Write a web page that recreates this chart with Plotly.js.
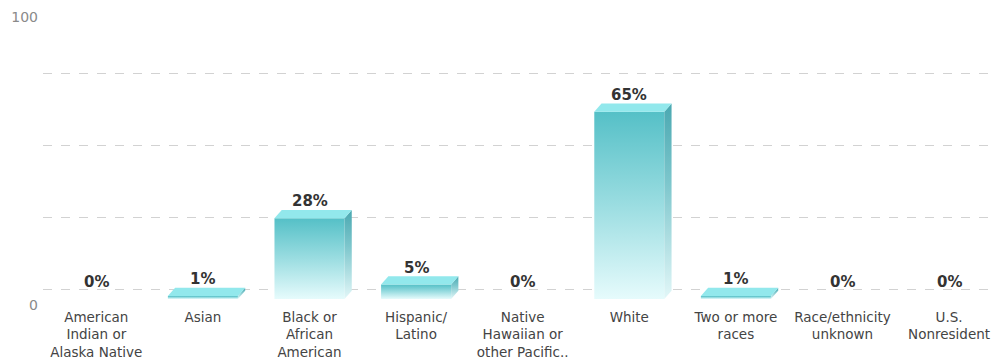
<!DOCTYPE html>
<html>
<head>
<meta charset="utf-8">
<script src="https://cdn.plot.ly/plotly-3.0.1.min.js"></script>
<style>
html,body{margin:0;padding:0;background:#fff;}
#chart{width:996px;height:360px;}
</style>
</head>
<body>
<div id="chart"></div>
<script>
// ---- data ----
var categories = [
  "American<br>Indian or<br>Alaska Native",
  "Asian",
  "Black or<br>African<br>American",
  "Hispanic/<br>Latino",
  "Native<br>Hawaiian or<br>other Pacific..",
  "White",
  "Two or more<br>races",
  "Race/ethnicity<br>unknown",
  "U.S.<br>Nonresident"
];
var percents = [0, 1, 28, 5, 0, 65, 1, 0, 0];
var yTickValues = [0, 100];
var yTickLabels = ["0", "100"];

// ---- styling constants (3D look) ----
var barWidth = 0.657;   // front face width in category units
var depthX = 0.068;     // 3D depth offset, category units
var depthY = 2.9;       // 3D depth offset, value units
var FONT = "DejaVu Sans, Liberation Sans, Arial, sans-serif";

var idx = categories.map(function(_, i){ return i; });

var traces = [];
// front faces
traces.push({
  type: "bar",
  x: idx,
  y: percents,
  width: barWidth,
  marker: {color: "#7fd3d8", line: {width: 0}},
  hoverinfo: "skip",
  showlegend: false
});

// side + top faces for each nonzero bar
var hw = barWidth / 2;
percents.forEach(function(v, i){
  if (v <= 0) return;
  traces.push({
    type: "scatter", mode: "none", fill: "toself",
    x: [i + hw, i + hw + depthX, i + hw + depthX, i + hw],
    y: [0, depthY, v + depthY, v],
    fillgradient: {type: "vertical",
      colorscale: [[0, "#e2f7f8"], [0.6, "#7cc6cc"], [1, "#4aa8b1"]]},
    hoverinfo: "skip", showlegend: false
  });
  traces.push({
    type: "scatter", mode: "none", fill: "toself",
    x: [i - hw, i + hw, i + hw + depthX, i - hw + depthX],
    y: [v, v, v + depthY, v + depthY],
    fillcolor: "#92e8ec",
    hoverinfo: "skip", showlegend: false
  });
});

// invisible trace to carry the grid axis
traces.push({type: "scatter", x: [], y: [], yaxis: "y2", hoverinfo: "skip", showlegend: false});

var annotations = percents.map(function(v, i){
  return {
    x: i, y: v, xref: "x", yref: "y",
    text: v + "%", showarrow: false,
    yanchor: "bottom", yshift: 6,
    font: {family: FONT, size: 15, color: "#333", weight: "bold"}
  };
});

var layout = {
  width: 996, height: 360,
  margin: {l: 43, r: 0, t: 11, b: 61},
  paper_bgcolor: "#ffffff",
  plot_bgcolor: "rgba(0,0,0,0)",
  font: {family: FONT, color: "#444"},
  xaxis: {
    type: "linear",
    range: [-0.5, 8.44],
    tickvals: idx, ticktext: categories,
    showgrid: false, zeroline: false, showline: false,
    ticks: "",
    ticklabelstandoff: 8,
    tickfont: {family: FONT, size: 13.5, color: "#444"},
    fixedrange: true
  },
  yaxis: {
    range: [0, 100],
    tickvals: yTickValues, ticktext: yTickLabels,
    showgrid: false, zeroline: false, showline: false,
    ticks: "",
    ticklabelshift: 6,
    ticklabelstandoff: 4,
    tickfont: {family: FONT, size: 14, color: "#8a8a8a"},
    fixedrange: true
  },
  yaxis2: {
    overlaying: "y",
    range: [-3.47, 96.53],
    tick0: 0, dtick: 25,
    showgrid: true, griddash: "dash", gridcolor: "#d2d2d2", gridwidth: 1,
    zeroline: false, showline: false, showticklabels: false, ticks: "",
    fixedrange: true
  },
  annotations: annotations,
  showlegend: false
};

Plotly.newPlot("chart", traces, layout, {displayModeBar: false, staticPlot: true}).then(function(gd){
  var svg = gd.querySelector("svg.main-svg");
  var defs = svg.querySelector("defs");
  var ns = "http://www.w3.org/2000/svg";
  var g = document.createElementNS(ns, "linearGradient");
  g.setAttribute("id", "frontGrad");
  g.setAttribute("x1", "0"); g.setAttribute("y1", "0");
  g.setAttribute("x2", "0"); g.setAttribute("y2", "1");
  [["0", "#55c0c7"], ["0.5", "#9bdde1"], ["1", "#e6fbfc"]].forEach(function(s){
    var st = document.createElementNS(ns, "stop");
    st.setAttribute("offset", s[0]);
    st.setAttribute("stop-color", s[1]);
    g.appendChild(st);
  });
  defs.appendChild(g);
  gd.querySelectorAll(".barlayer .point path").forEach(function(p){
    p.style.fill = "url(#frontGrad)";
  });
});
</script>
</body>
</html>
